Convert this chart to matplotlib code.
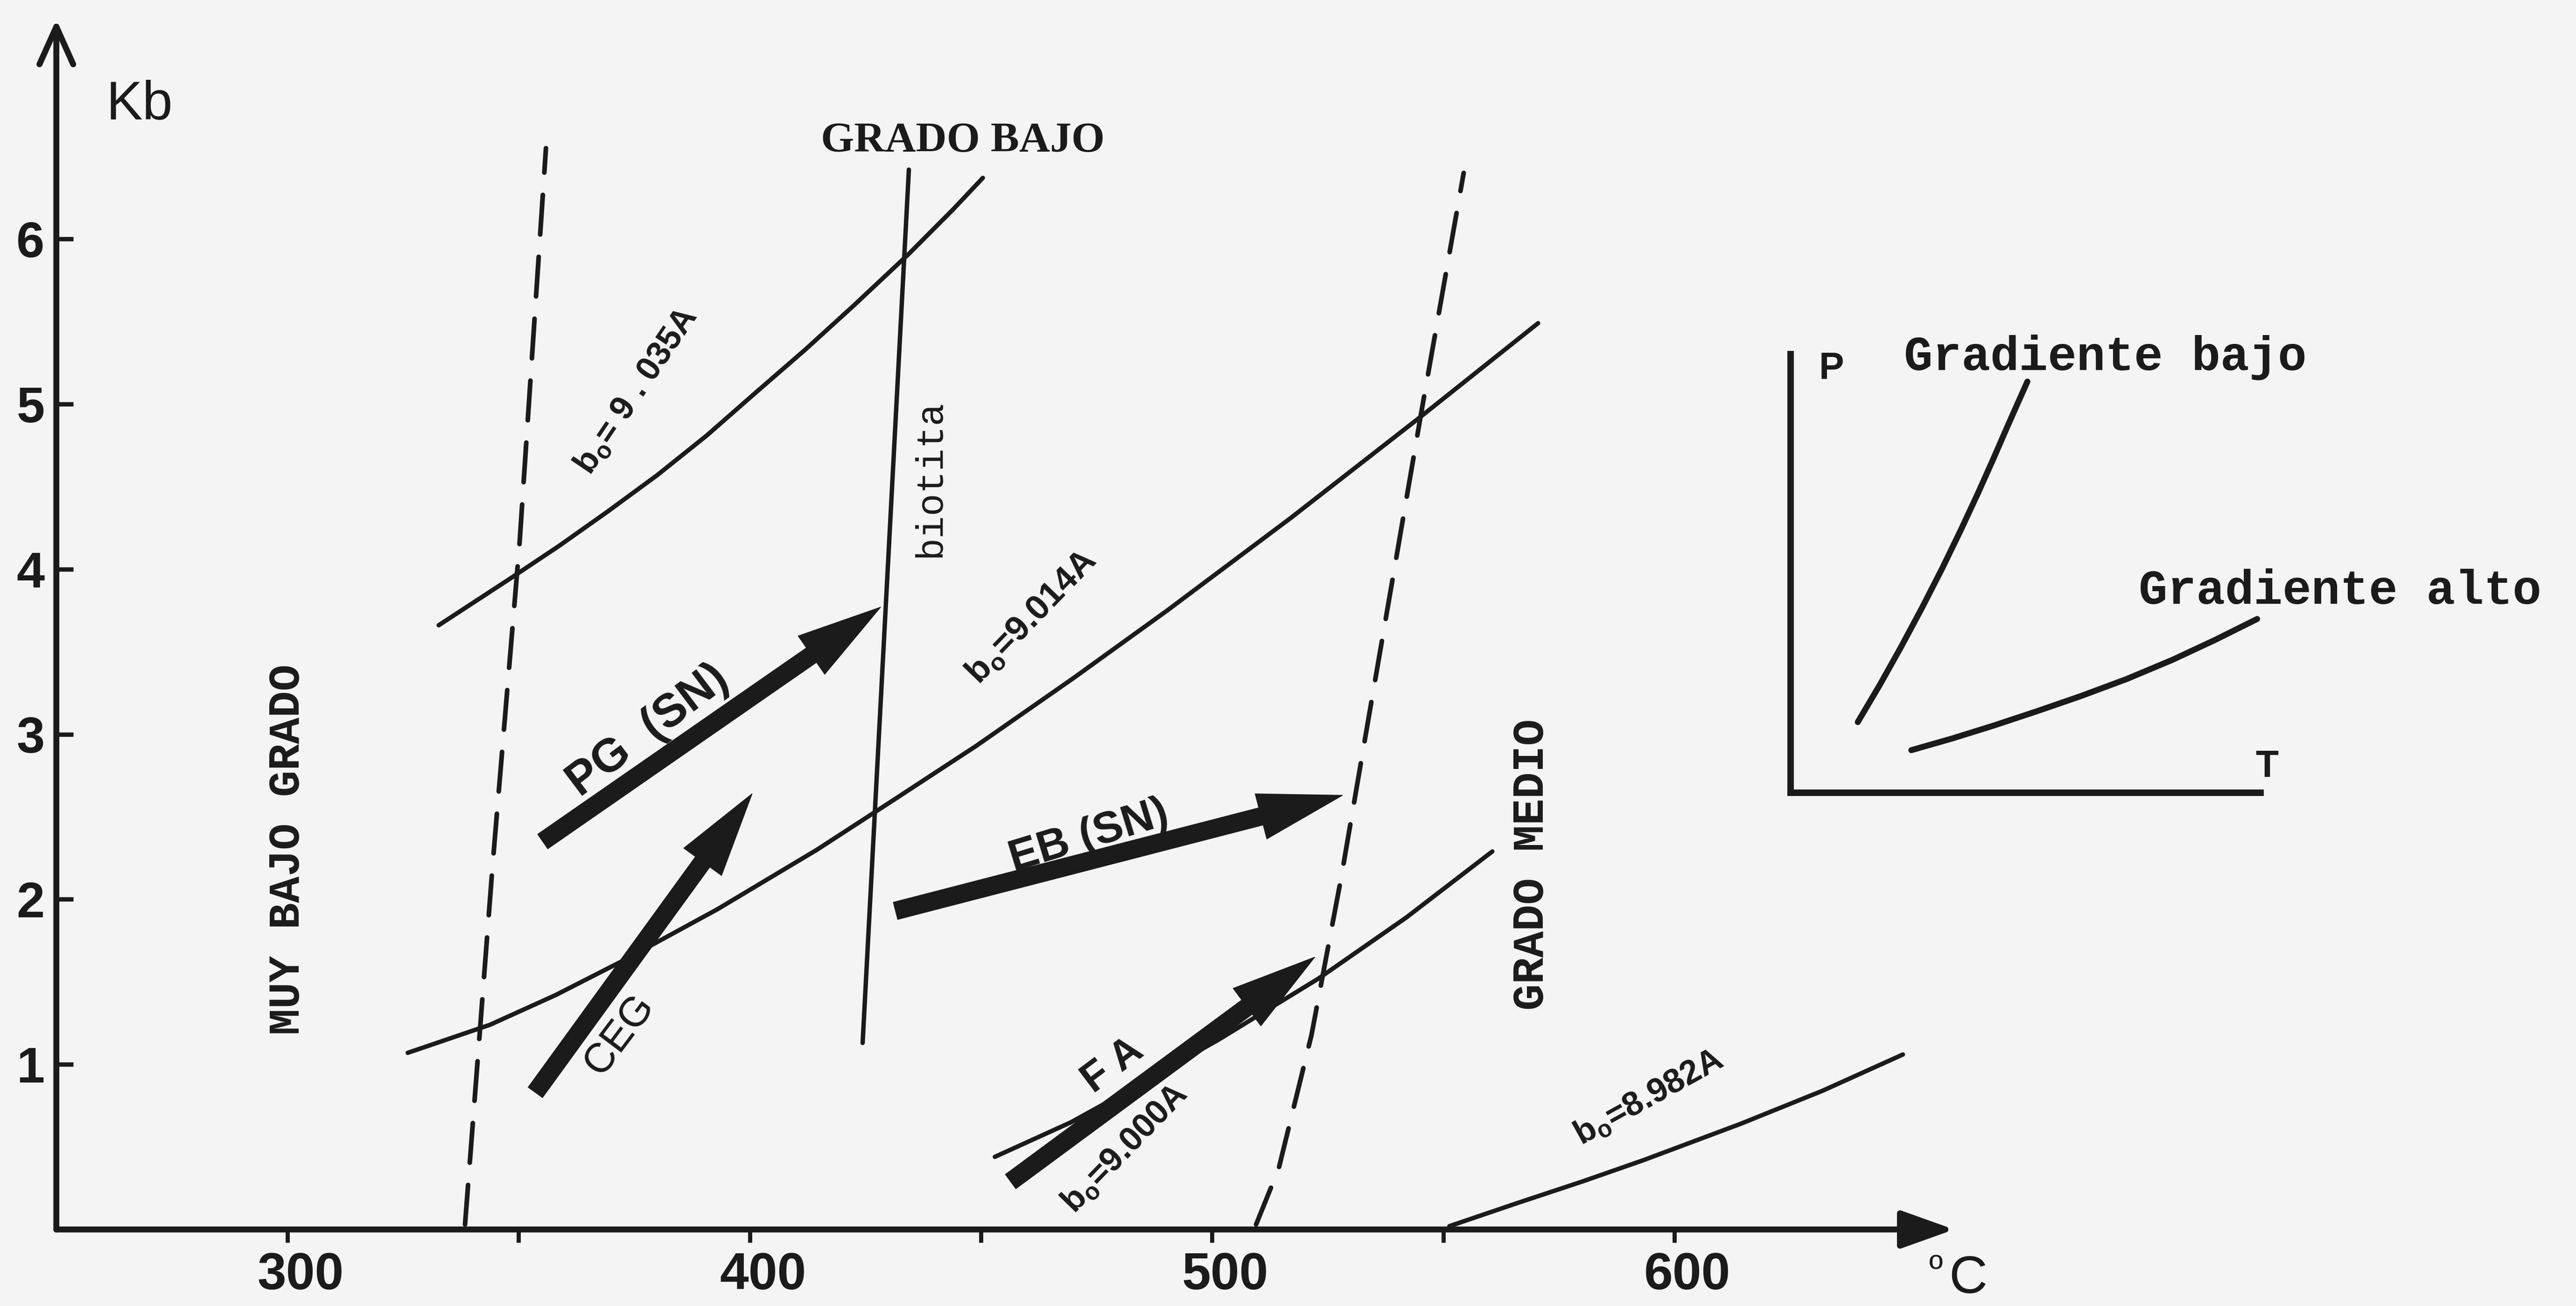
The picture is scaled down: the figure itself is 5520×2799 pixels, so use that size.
import matplotlib
matplotlib.use("Agg")
import matplotlib.pyplot as plt
from matplotlib.transforms import ScaledTranslation

INK = "#1b1b1b"
PAPER = "#f4f4f4"

plt.rcParams["mathtext.fontset"] = "custom"
plt.rcParams["mathtext.rm"] = "Liberation Sans:bold"
plt.rcParams["mathtext.bf"] = "Liberation Sans:bold"

# ---- axes ticks -----------------------------------------------------------
x_major = [300, 400, 500, 600]
x_minor = [350, 450, 550]
y_ticks = [1, 2, 3, 4, 5, 6]

# ---- muscovite b0 isopleths (T in degC, P in kb) --------------------------
b035_T = [332.7, 340.9, 348.0, 358.7, 369.3, 380.0, 390.7, 401.3, 412.0,
          422.6, 434.4, 444.0, 450.4]
b035_P = [3.66, 3.81, 3.94, 4.14, 4.35, 4.57, 4.81, 5.07, 5.33,
          5.60, 5.91, 6.18, 6.37]
b014_T = [326.0, 343.8, 358.0, 372.7, 393.0, 414.5, 431.0, 449.0, 470.0,
          490.3, 517.0, 544.5, 570.5]
b014_P = [1.07, 1.24, 1.42, 1.63, 1.94, 2.30, 2.60, 2.93, 3.34,
          3.75, 4.31, 4.91, 5.49]
b000_T = [453.0, 469.5, 485.0, 501.4, 523.0, 542.0, 560.6]
b000_P = [0.44, 0.65, 0.89, 1.15, 1.52, 1.89, 2.29]
b982_T = [551.3, 566.0, 580.0, 593.3, 614.3, 632.0, 649.4]
b982_P = [0.02, 0.16, 0.29, 0.42, 0.64, 0.84, 1.06]

# ---- grade boundaries (dashed) and biotite isograd ------------------------
low_T = [338.4, 344.4, 350.2, 355.9]
low_P = [0.03, 2.22, 4.16, 6.55]
mid_T = [509.5, 514.4, 521.5, 527.9, 533.6, 539.4, 545.3, 554.4]
mid_P = [0.03, 0.37, 1.18, 2.13, 3.06, 4.00, 4.96, 6.40]
biot_T = [424.4, 434.4]
biot_P = [1.13, 6.42]

# ---- P-T paths ------------------------------------------------------------
path_names = ["PG  (SN)", "CEG", "EB (SN)", "F A"]
path_T0 = [355.2, 353.6, 431.5, 456.4]
path_P0 = [2.35, 0.83, 1.93, 0.29]
path_T1 = [428.3, 400.5, 528.2, 522.2]
path_P1 = [3.77, 2.64, 2.63, 1.65]
path_lab_T = [378.0, 371.8, 473.3, 478.6]
path_lab_P = [3.02, 1.18, 2.38, 0.99]
path_lab_rot = [37, 53, 17, 37]
path_lab_size = [36, 32, 34, 32]
path_lab_weight = ["bold", "normal", "bold", "bold"]

# ---- b0 labels --------------------------------------------------------------
b0_labels = [r"b$_{\rm o}$= 9 . 035A", r"b$_{\rm o}$=9.014A",
             r"b$_{\rm o}$=9.000A", r"b$_{\rm o}$=8.982A"]
b0_T = [375.5, 460.9, 481.1, 594.4]
b0_P = [5.08, 3.71, 0.49, 0.80]
b0_rot = [56, 46, 46, 29]
b0_size = [26, 27, 26, 26]

# ---- inset: schematic gradients (normalised P-T) --------------------------
grad_low_x = [0.143, 0.190, 0.235, 0.280, 0.323, 0.362, 0.399, 0.432, 0.460,
              0.484, 0.504]
grad_low_y = [0.161, 0.246, 0.332, 0.422, 0.512, 0.598, 0.683, 0.762, 0.831,
              0.889, 0.937]
grad_high_x = [0.257, 0.345, 0.432, 0.525, 0.617, 0.715, 0.813, 0.903, 0.993]
grad_high_y = [0.097, 0.124, 0.153, 0.186, 0.220, 0.259, 0.303, 0.348, 0.396]

fig = plt.figure(figsize=(27.6, 13.995), dpi=200, facecolor=PAPER)
ax = fig.add_axes([0.02187, 0.05859, 0.7538, 0.9354])
ax.set_facecolor("none")
ax.set_xlim(250, 670)
ax.set_ylim(0, 7.4)
for s in ax.spines.values():
    s.set_visible(False)

# axis lines with arrow heads
ax.annotate("", xy=(250, 7.33), xytext=(250, 0),
            arrowprops=dict(arrowstyle="->,head_length=2.9,head_width=1.3",
                            mutation_scale=10, color=INK, lw=4.6,
                            shrinkA=0, shrinkB=0), annotation_clip=False)
ax.annotate("", xy=(660.5, 0), xytext=(250, 0),
            arrowprops=dict(arrowstyle="-|>,head_length=3.5,head_width=1.25",
                            mutation_scale=10, color=INK, lw=4.6,
                            shrinkA=0, shrinkB=0), annotation_clip=False)

ax.set_xticks(x_major)
ax.set_xticks(x_minor, minor=True)
ax.set_yticks(y_ticks)
ax.tick_params(axis="x", which="both", direction="out", length=10, width=3.2,
               color=INK, pad=7, labelsize=40, labelcolor=INK)
ax.tick_params(axis="y", direction="in", length=13, width=3.4, color=INK,
               pad=9, labelsize=39, labelcolor=INK)
for lab in ax.get_xticklabels() + ax.get_yticklabels():
    lab.set_family("Liberation Sans")
    lab.set_weight("bold")
shift = ScaledTranslation(10 / 72, 0, fig.dpi_scale_trans)
for lab in ax.get_xticklabels():
    lab.set_transform(lab.get_transform() + shift)

ax.text(268, 6.81, "Kb", family="Liberation Sans", fontsize=42, color=INK,
        ha="center", va="center")
# temperature unit: small raised degree sign followed by C
ax.text(663.5, -0.385, "C", family="Liberation Sans", fontsize=41, color=INK,
        ha="center", va="baseline", clip_on=False)
ax.text(656.6, -0.315, "º", family="Liberation Sans", fontsize=29, color=INK,
        ha="center", va="baseline", clip_on=False)

# isopleths and boundaries
curve_kw = dict(color=INK, lw=3.4, solid_capstyle="round",
                solid_joinstyle="round")
for T, P in [(b035_T, b035_P), (b014_T, b014_P), (b000_T, b000_P),
             (b982_T, b982_P), (biot_T, biot_P)]:
    ax.plot(T, P, **curve_kw)
for T, P in [(low_T, low_P), (mid_T, mid_P)]:
    ax.plot(T, P, color=INK, lw=3.6, linestyle=(0, (8.5, 4.8)),
            dash_capstyle="round")

# P-T path arrows
for t0, p0, t1, p1 in zip(path_T0, path_P0, path_T1, path_P1):
    ax.annotate("", xy=(t1, p1), xytext=(t0, p0),
                arrowprops=dict(arrowstyle="simple,head_length=6.5,head_width=3.6,tail_width=1.37",
                                mutation_scale=10, fc=INK, ec=INK, lw=0.5,
                                shrinkA=0, shrinkB=0), zorder=4)
for name, t, p, r, fs, w in zip(path_names, path_lab_T, path_lab_P,
                                path_lab_rot, path_lab_size, path_lab_weight):
    ax.text(t, p, name, family="Liberation Sans", weight=w, fontsize=fs,
            color=INK, rotation=r, rotation_mode="anchor",
            ha="center", va="center")

for s, t, p, r, fs in zip(b0_labels, b0_T, b0_P, b0_rot, b0_size):
    ax.text(t, p, s, family="Liberation Sans", weight="bold", fontsize=fs,
            color=INK, rotation=r, rotation_mode="anchor",
            ha="center", va="center")

# zone names
ax.text(446.1, 6.59, "GRADO BAJO", family="Liberation Serif", weight="bold",
        fontsize=33, color=INK, ha="center", va="center")
ax.text(300, 2.30, "MUY BAJO GRADO", family="Liberation Mono", weight="bold",
        fontsize=34, color=INK, rotation=90, ha="center", va="center")
ax.text(569.1, 2.21, "GRADO MEDIO", family="Liberation Mono", weight="bold",
        fontsize=34, color=INK, rotation=90, ha="center", va="center")
ax.text(439.0, 4.55, "biotita", family="Liberation Mono", fontsize=29,
        color=INK, rotation=90, ha="center", va="center")

# inset sketch
ins = fig.add_axes([0.6951, 0.3930, 0.1824, 0.3360])
ins.set_facecolor("none")
ins.set_xlim(0, 1)
ins.set_ylim(0, 1)
ins.set_xticks([])
ins.set_yticks([])
for k in ["top", "right"]:
    ins.spines[k].set_visible(False)
for k in ["left", "bottom"]:
    ins.spines[k].set_linewidth(5)
    ins.spines[k].set_color(INK)
ins.plot(grad_low_x, grad_low_y, color=INK, lw=4.6, solid_capstyle="round",
         solid_joinstyle="round")
ins.plot(grad_high_x, grad_high_y, color=INK, lw=4.6, solid_capstyle="round",
         solid_joinstyle="round")
ins.text(0.087, 0.966, "P", transform=ins.transAxes, family="Liberation Sans",
         weight="bold", fontsize=29, color=INK, ha="center", va="center",
         clip_on=False)
ins.text(1.014, 0.059, "T", transform=ins.transAxes, family="Liberation Sans",
         weight="bold", fontsize=29, color=INK, ha="center", va="center",
         clip_on=False)
ins.text(0.241, 0.992, "Gradiente bajo", transform=ins.transAxes,
         family="Liberation Mono", weight="bold", fontsize=37, color=INK,
         ha="left", va="center", clip_on=False)
ins.text(0.741, 0.459, "Gradiente alto", transform=ins.transAxes,
         family="Liberation Mono", weight="bold", fontsize=37, color=INK,
         ha="left", va="center", clip_on=False)

fig.savefig("out.png", dpi=200, facecolor=PAPER)
